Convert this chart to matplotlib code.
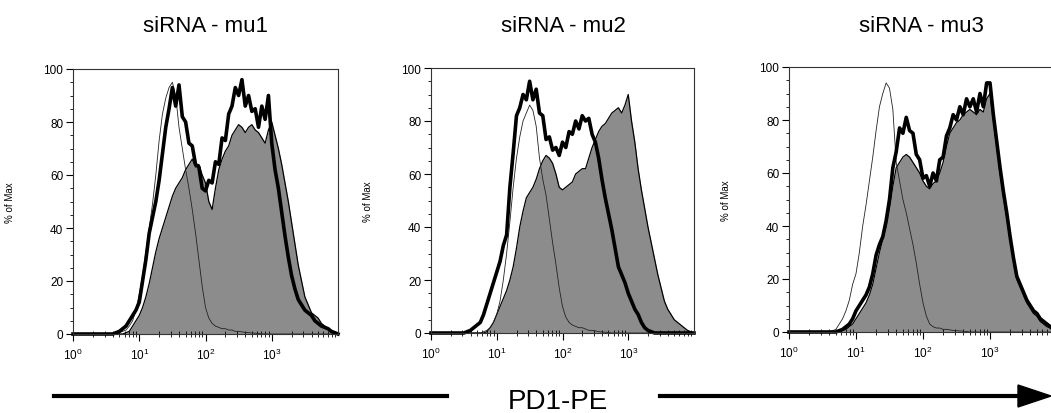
import numpy as np
import matplotlib
matplotlib.use("Agg")
import matplotlib.pyplot as plt
from matplotlib.ticker import MultipleLocator, LogLocator, NullFormatter

plt.rcParams["font.family"] = ["Liberation Sans", "DejaVu Sans"]
plt.rcParams["mathtext.fontset"] = "custom"
plt.rcParams["mathtext.rm"] = "Liberation Sans"
plt.rcParams["mathtext.it"] = "Liberation Sans"

# PE channel bins, log10 scale 10^0 .. 10^4, one bin per 0.05 decade
log_bins = np.linspace(0, 4, 81)

titles = ["siRNA - mu1", "siRNA - mu2", "siRNA - mu3"]
ylabels = ["% of Max", "% of Max", "% of Max"]

# isotype control (thin line), % of max
ctrl1 = [0, 0, 0, 0, 0, 0, 0, 0, 0, 0,
         0, 0, 0, 0, 0.5, 1, 1.5, 3, 5, 9,
         15, 22, 31, 40, 49, 60, 73, 83, 89, 93,
         95, 90, 78, 70, 62, 55, 47, 38, 28, 18,
         10, 6, 4, 3, 2.5, 2, 2, 1.5, 1.5, 1,
         1, 0.8, 0.6, 0.5, 0.4, 0.3, 0.2, 0, 0, 0,
         0, 0, 0, 0, 0, 0, 0, 0, 0, 0,
         0, 0, 0, 0, 0, 0, 0, 0, 0, 0,
         0]
ctrl2 = [0, 0, 0, 0, 0, 0, 0, 0, 0, 0,
         0, 0, 0, 0, 0, 0, 0.5, 1, 2, 4,
         7, 12, 20, 30, 42, 55, 66, 74, 80, 83,
         86, 84, 78, 66, 58, 52, 43, 34, 26, 17,
         10, 6, 4, 3, 2.5, 2, 2, 1.5, 1, 1,
         0.8, 0.5, 0.4, 0.3, 0.2, 0, 0, 0, 0, 0,
         0, 0, 0, 0, 0, 0, 0, 0, 0, 0,
         0, 0, 0, 0, 0, 0, 0, 0, 0, 0,
         0]
ctrl3 = [0, 0, 0, 0, 0, 0, 0, 0, 0, 0,
         0, 0, 0, 0.5, 1, 3, 5, 8, 12, 18,
         22, 30, 40, 48, 57, 66, 76, 85, 90, 94,
         92, 84, 64, 57, 50, 45, 39, 33, 26, 18,
         11, 6, 3, 2, 1.5, 1.5, 1, 1, 0.8, 0.6,
         0.5, 0.4, 0.3, 0.2, 0, 0, 0, 0, 0, 0,
         0, 0, 0, 0, 0, 0, 0, 0, 0, 0,
         0, 0, 0, 0, 0, 0, 0, 0, 0, 0,
         0]

# siRNA sample (thick line)
thick1 = [0, 0, 0, 0, 0, 0, 0, 0, 0, 0,
          0, 0, 0, 0.5, 1, 2, 3, 5, 7, 9,
          12, 20, 28, 38, 44, 50, 58, 68, 78, 85,
          93, 86, 94, 82, 80, 72, 71, 64, 63, 55,
          54, 58, 57, 65, 64, 74, 73, 83, 86, 93,
          90, 96, 86, 90, 84, 85, 78, 86, 81, 90,
          72, 62, 55, 46, 37, 29, 22, 17, 13, 11,
          9, 8, 7, 5, 4, 3, 2.5, 2, 1, 0.5,
          0]
thick2 = [0, 0, 0, 0, 0, 0, 0, 0, 0, 0,
          0, 0.5, 1, 2, 3, 4, 7, 11, 15, 19,
          23, 27, 33, 37, 55, 68, 82, 85, 90, 88,
          95, 88, 92, 83, 82, 73, 74, 69, 70, 67,
          72, 70, 76, 75, 80, 77, 82, 80, 81, 75,
          72, 66, 58, 51, 45, 39, 32, 25, 22, 19,
          15, 12, 9, 7, 4, 2, 1, 0.5, 0, 0,
          0, 0, 0, 0, 0, 0, 0, 0, 0, 0,
          0]
thick3 = [0, 0, 0, 0, 0, 0, 0, 0, 0, 0,
          0, 0, 0, 0, 0, 0.5, 1, 2, 3, 5,
          8, 10, 12, 14, 17, 22, 29, 33, 36, 42,
          50, 62, 68, 77, 75, 81, 76, 75, 67, 65,
          58, 59, 55, 60, 57, 65, 66, 74, 77, 82,
          80, 85, 82, 88, 85, 88, 83, 90, 85, 94,
          94, 82, 72, 62, 53, 45, 36, 28, 21, 18,
          15, 12, 10, 8, 7, 5, 4, 3, 2, 1,
          0.5]

# reference sample (grey filled)
grey1 = [0, 0, 0, 0, 0, 0, 0, 0, 0, 0,
         0, 0, 0, 0, 0, 0, 0.5, 1, 3, 5,
         7, 10, 14, 19, 25, 31, 36, 40, 44, 48,
         52, 55, 57, 59, 62, 64, 66, 63, 64, 60,
         57, 50, 47, 55, 62, 66, 69, 71, 75, 77,
         79, 78, 76, 78, 79, 77, 76, 74, 72, 77,
         80, 75, 70, 64, 57, 50, 42, 34, 26, 20,
         14, 11, 8, 7, 6, 4, 3, 2, 1, 0.5,
         0]
grey2 = [0, 0, 0, 0, 0, 0, 0, 0, 0, 0,
         0, 0, 0, 0, 0, 0, 0, 0.5, 2, 4,
         7, 10, 13, 16, 20, 25, 32, 40, 46, 51,
         53, 55, 58, 62, 65, 67, 66, 64, 60, 55,
         54, 55, 56, 57, 60, 61, 62, 62, 66, 70,
         73, 76, 78, 79, 81, 83, 84, 85, 83, 86,
         90, 80, 72, 62, 54, 47, 40, 34, 28, 22,
         17, 12, 9, 7, 5, 4, 3, 2, 1, 0.5,
         0]
grey3 = [0, 0, 0, 0, 0, 0, 0, 0, 0, 0,
         0, 0, 0, 0, 0, 0, 0.5, 1, 2, 3,
         5, 7, 9, 11, 14, 18, 24, 30, 35, 40,
         47, 55, 62, 64, 66, 67, 66, 64, 62, 60,
         57, 55, 54, 56, 57, 60, 64, 70, 75, 77,
         79, 80, 82, 83, 84, 83, 82, 84, 83, 88,
         90, 80, 70, 60, 51, 43, 35, 27, 20, 17,
         14, 11, 9, 7, 6, 4, 3, 2, 1.5, 0.5,
         0]

ctrls = [ctrl1, ctrl2, ctrl3]
thicks = [thick1, thick2, thick3]
greys = [grey1, grey2, grey3]

W, H = 1051, 414
fig = plt.figure(figsize=(W / 100, H / 100), dpi=100)

# axes boxes in pixels: left, top, width, height
boxes = [(73, 70, 265, 265), (431, 69, 263, 265), (789, 68, 268, 265)]
xs = 10 ** log_bins

for i, (l, t, w, h) in enumerate(boxes):
    ax = fig.add_axes([l / W, (H - t - h) / H, w / W, h / H])
    ax.fill_between(xs, 0, greys[i], color="#8c8c8c", lw=0)
    ax.plot(xs, greys[i], color="black", lw=0.9, clip_on=False)
    ax.plot(xs, ctrls[i], color="#222222", lw=0.6, clip_on=False)
    ax.plot(xs, thicks[i], color="black", lw=2.6, clip_on=False)

    ax.set_xscale("log")
    ax.set_xlim(1, 1e4)
    ax.set_ylim(0, 100)
    ax.yaxis.set_major_locator(MultipleLocator(20))
    ax.yaxis.set_minor_locator(MultipleLocator(5))
    ax.xaxis.set_minor_locator(LogLocator(base=10, subs=np.arange(2, 10), numticks=10))
    ax.xaxis.set_minor_formatter(NullFormatter())
    ax.set_xticks([1, 10, 100, 1000])
    ax.tick_params(axis="both", which="major", direction="out", length=5,
                   width=0.8, labelsize=8.5, pad=2)
    ax.tick_params(axis="x", which="major", pad=4)
    ax.tick_params(axis="y", which="minor", direction="out", length=2.5, width=0.6)
    ax.tick_params(axis="x", which="minor", direction="inout", length=4, width=0.6)
    for s in ax.spines.values():
        s.set_linewidth(0.8)
        s.set_color("#333333")
    ax.set_ylabel(ylabels[i], fontsize=7)
    ax.yaxis.set_label_coords(-58 / w, 0.5)

    fig.text((l + 265 / 2) / W, (H - 32) / H, titles[i], ha="center", va="baseline",
             fontsize=16)

# bottom axis legend: line - PD1-PE - arrow
fig.add_artist(plt.Line2D([54 / W, 447 / W], [1 - 397 / H, 1 - 397 / H],
                          color="black", lw=3))
fig.text(558 / W, 1 - 409 / H, "PD1-PE", ha="center", va="baseline", fontsize=20)
fig.add_artist(plt.Line2D([660 / W, 1022 / W], [1 - 397 / H, 1 - 397 / H],
                          color="black", lw=3))
fig.add_artist(plt.Polygon([[1018 / W, 1 - 386 / H], [1051 / W, 1 - 397 / H],
                            [1018 / W, 1 - 408 / H]], closed=True,
                           transform=fig.transFigure, color="black"))

fig.savefig("out.png", dpi=100)
